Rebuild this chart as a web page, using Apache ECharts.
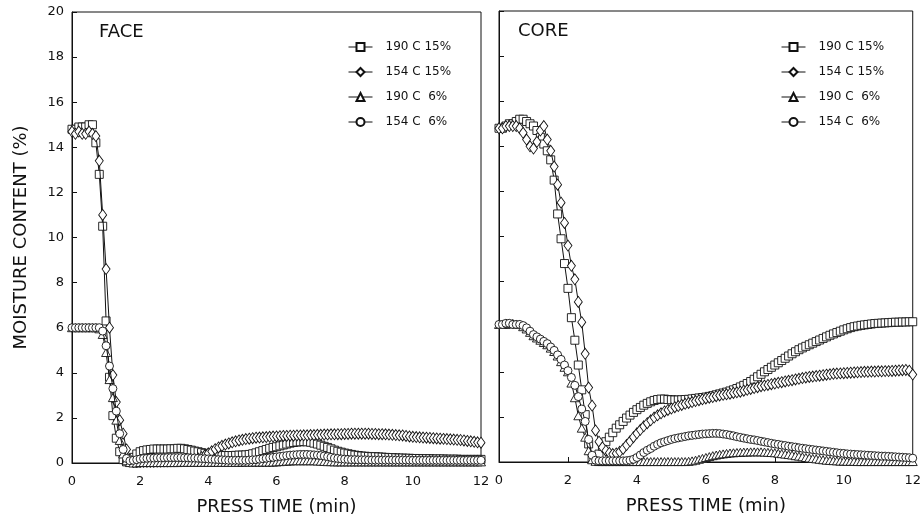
<!DOCTYPE html>
<html>
<head>
<meta charset="utf-8">
<script src="https://cdn.jsdelivr.net/npm/echarts@6/dist/echarts.min.js"></script>
<style>
  html, body { margin: 0; padding: 0; background: #fff; }
  #chart { width: 924px; height: 524px; }
</style>
</head>
<body>
<div id="chart"></div>
<script>
// Press time (min), sampled every 0.1 min
const times = [
  0,0.1,0.2,0.3,0.4,0.5,0.6,0.7,0.8,0.9,
  1,1.1,1.2,1.3,1.4,1.5,1.6,1.7,1.8,1.9,
  2,2.1,2.2,2.3,2.4,2.5,2.6,2.7,2.8,2.9,
  3,3.1,3.2,3.3,3.4,3.5,3.6,3.7,3.8,3.9,
  4,4.1,4.2,4.3,4.4,4.5,4.6,4.7,4.8,4.9,
  5,5.1,5.2,5.3,5.4,5.5,5.6,5.7,5.8,5.9,
  6,6.1,6.2,6.3,6.4,6.5,6.6,6.7,6.8,6.9,
  7,7.1,7.2,7.3,7.4,7.5,7.6,7.7,7.8,7.9,
  8,8.1,8.2,8.3,8.4,8.5,8.6,8.7,8.8,8.9,
  9,9.1,9.2,9.3,9.4,9.5,9.6,9.7,9.8,9.9,
  10,10.1,10.2,10.3,10.4,10.5,10.6,10.7,10.8,10.9,
  11,11.1,11.2,11.3,11.4,11.5,11.6,11.7,11.8,11.9,
  12
];

const seriesNames = ['190 C 15%', '154 C 15%', '190 C  6%', '154 C  6%'];
const xTicks = [0, 2, 4, 6, 8, 10, 12];
const yTicks = [0, 2, 4, 6, 8, 10, 12, 14, 16, 18, 20];
const panelTitles = ['FACE', 'CORE'];

// FACE layer moisture content (%)
const face190c15 = [
  14.8,14.8,14.9,14.9,14.9,15.0,15.0,14.2,12.8,10.5,
  6.3,3.8,2.1,1.1,0.5,0.15,0.05,0.1,0.25,0.4,
  0.5,0.55,0.58,0.6,0.62,0.62,0.62,0.62,0.62,0.63,
  0.63,0.65,0.65,0.63,0.6,0.57,0.53,0.5,0.46,0.43,
  0.4,0.38,0.36,0.35,0.34,0.33,0.33,0.33,0.34,0.35,
  0.35,0.36,0.38,0.41,0.45,0.5,0.55,0.6,0.65,0.69,
  0.72,0.76,0.8,0.84,0.88,0.91,0.93,0.94,0.95,0.94,
  0.92,0.88,0.84,0.79,0.74,0.69,0.63,0.57,0.52,0.48,
  0.44,0.41,0.38,0.35,0.33,0.31,0.3,0.29,0.28,0.28,
  0.27,0.26,0.25,0.24,0.24,0.23,0.22,0.22,0.21,0.21,
  0.2,0.2,0.2,0.19,0.19,0.19,0.18,0.18,0.18,0.18,
  0.17,0.17,0.17,0.17,0.16,0.16,0.16,0.16,0.16,0.16,
  0.16
];
const face154c15 = [
  14.7,14.6,14.7,14.6,14.6,14.7,14.6,14.5,13.4,11.0,
  8.6,6.0,3.9,2.7,1.9,1.3,0.6,0.15,0.05,0.05,
  0.05,0.05,0.05,0.06,0.06,0.07,0.07,0.08,0.08,0.09,
  0.1,0.1,0.11,0.12,0.13,0.14,0.16,0.2,0.26,0.34,
  0.43,0.52,0.61,0.69,0.76,0.82,0.87,0.92,0.96,1.0,
  1.03,1.06,1.08,1.1,1.12,1.13,1.14,1.15,1.16,1.17,
  1.18,1.19,1.2,1.2,1.21,1.21,1.22,1.22,1.23,1.23,
  1.24,1.24,1.25,1.25,1.26,1.26,1.27,1.27,1.28,1.28,
  1.29,1.29,1.3,1.3,1.3,1.3,1.3,1.3,1.29,1.29,
  1.28,1.28,1.27,1.26,1.25,1.24,1.23,1.22,1.2,1.18,
  1.16,1.15,1.14,1.13,1.12,1.11,1.1,1.09,1.08,1.07,
  1.06,1.05,1.04,1.03,1.02,1.0,0.98,0.96,0.94,0.92,
  0.9
];
const face190c6 = [
  6.0,6.0,6.0,6.0,6.0,6.0,6.0,6.0,5.95,5.7,
  4.9,3.7,2.9,1.9,1.0,0.4,0.1,0.02,0.0,0.0,
  0.02,0.02,0.02,0.02,0.02,0.02,0.02,0.02,0.02,0.02,
  0.02,0.02,0.03,0.03,0.03,0.03,0.03,0.03,0.03,0.03,
  0.03,0.03,0.03,0.03,0.03,0.03,0.03,0.03,0.03,0.03,
  0.04,0.04,0.04,0.04,0.04,0.04,0.04,0.04,0.04,0.04,
  0.05,0.06,0.07,0.08,0.09,0.1,0.1,0.1,0.1,0.1,
  0.1,0.1,0.09,0.08,0.07,0.06,0.06,0.05,0.05,0.05,
  0.05,0.05,0.05,0.05,0.05,0.05,0.05,0.05,0.05,0.05,
  0.05,0.05,0.05,0.05,0.05,0.05,0.05,0.05,0.05,0.05,
  0.05,0.05,0.05,0.05,0.05,0.05,0.05,0.05,0.05,0.05,
  0.05,0.05,0.05,0.05,0.05,0.05,0.05,0.05,0.05,0.05,
  0.05
];
const face154c6 = [
  6.0,6.0,6.0,6.0,6.0,6.0,6.0,6.0,6.0,5.85,
  5.2,4.3,3.3,2.3,1.3,0.6,0.2,0.1,0.12,0.15,
  0.18,0.2,0.21,0.22,0.22,0.23,0.23,0.23,0.24,0.24,
  0.24,0.24,0.24,0.23,0.23,0.22,0.22,0.21,0.2,0.19,
  0.18,0.17,0.16,0.15,0.14,0.13,0.12,0.12,0.12,0.12,
  0.12,0.12,0.13,0.14,0.15,0.17,0.19,0.21,0.23,0.25,
  0.27,0.29,0.31,0.33,0.35,0.36,0.37,0.38,0.38,0.38,
  0.37,0.36,0.35,0.33,0.31,0.28,0.25,0.22,0.2,0.18,
  0.17,0.16,0.15,0.15,0.14,0.14,0.14,0.13,0.13,0.13,
  0.13,0.13,0.13,0.13,0.13,0.13,0.13,0.13,0.13,0.13,
  0.12,0.12,0.12,0.12,0.12,0.12,0.12,0.12,0.12,0.12,
  0.12,0.12,0.12,0.12,0.12,0.12,0.12,0.12,0.12,0.12,
  0.12
];

// CORE layer moisture content (%)
const core190c15 = [
  14.8,14.8,14.9,15.0,15.0,15.1,15.2,15.2,15.1,15.0,
  14.9,14.7,14.4,14.1,13.8,13.4,12.5,11.0,9.9,8.8,
  7.7,6.4,5.4,4.3,3.2,2.1,0.8,0.2,0.15,0.35,
  0.7,0.9,1.1,1.3,1.5,1.65,1.8,1.95,2.08,2.2,
  2.32,2.42,2.52,2.6,2.67,2.73,2.77,2.79,2.79,2.77,
  2.76,2.75,2.75,2.76,2.77,2.78,2.8,2.82,2.84,2.86,
  2.88,2.91,2.94,2.98,3.02,3.06,3.1,3.15,3.2,3.26,
  3.33,3.4,3.48,3.57,3.67,3.78,3.89,4.0,4.1,4.2,
  4.3,4.4,4.5,4.6,4.7,4.8,4.89,4.98,5.06,5.13,
  5.2,5.27,5.34,5.41,5.48,5.55,5.62,5.68,5.74,5.8,
  5.86,5.91,5.96,6.0,6.03,6.06,6.08,6.1,6.12,6.14,
  6.15,6.16,6.17,6.18,6.19,6.2,6.2,6.21,6.21,6.22,
  6.22
];
const core154c15 = [
  14.8,14.8,14.9,14.9,14.9,14.9,14.8,14.6,14.3,14.0,
  13.9,14.2,14.7,14.9,14.3,13.8,13.1,12.3,11.5,10.6,
  9.6,8.7,8.1,7.1,6.2,4.8,3.3,2.5,1.4,0.9,
  0.65,0.5,0.4,0.35,0.38,0.45,0.58,0.75,0.92,1.1,
  1.27,1.43,1.58,1.72,1.85,1.97,2.07,2.16,2.24,2.31,
  2.37,2.43,2.48,2.53,2.58,2.62,2.66,2.7,2.74,2.78,
  2.82,2.85,2.88,2.92,2.95,2.98,3.0,3.03,3.06,3.09,
  3.12,3.16,3.2,3.24,3.28,3.32,3.36,3.39,3.42,3.45,
  3.48,3.51,3.54,3.57,3.6,3.63,3.66,3.69,3.72,3.75,
  3.77,3.79,3.81,3.83,3.85,3.87,3.89,3.91,3.92,3.93,
  3.94,3.95,3.96,3.97,3.98,3.99,4.0,4.0,4.01,4.01,
  4.02,4.02,4.03,4.03,4.04,4.05,4.06,4.07,4.08,4.05,
  3.88
];
const core190c6 = [
  6.1,6.1,6.1,6.15,6.15,6.1,6.1,6.0,5.9,5.75,
  5.6,5.5,5.4,5.3,5.2,5.05,4.9,4.7,4.45,4.2,
  4.0,3.5,2.85,2.05,1.5,1.1,0.5,0.1,0.03,0.02,
  0.02,0.02,0.02,0.02,0.02,0.02,0.02,0.02,0.02,0.02,
  0.02,0.02,0.02,0.02,0.02,0.02,0.02,0.02,0.02,0.02,
  0.02,0.02,0.02,0.02,0.02,0.03,0.05,0.08,0.12,0.16,
  0.2,0.24,0.28,0.31,0.34,0.36,0.38,0.4,0.41,0.42,
  0.43,0.44,0.44,0.45,0.45,0.45,0.45,0.44,0.43,0.42,
  0.41,0.39,0.37,0.35,0.33,0.31,0.28,0.26,0.23,0.2,
  0.18,0.16,0.14,0.12,0.1,0.08,0.07,0.06,0.05,0.04,
  0.04,0.03,0.03,0.03,0.02,0.02,0.02,0.02,0.02,0.02,
  0.02,0.02,0.02,0.02,0.02,0.02,0.02,0.02,0.02,0.02,
  0.02
];
const core154c6 = [
  6.1,6.1,6.15,6.15,6.1,6.1,6.1,6.05,5.95,5.8,
  5.65,5.55,5.45,5.35,5.25,5.1,4.95,4.75,4.55,4.3,
  4.05,3.75,3.4,2.9,2.35,1.8,1.0,0.3,0.08,0.05,
  0.05,0.05,0.05,0.05,0.05,0.05,0.05,0.06,0.08,0.12,
  0.2,0.31,0.42,0.52,0.6,0.7,0.78,0.85,0.9,0.95,
  1.0,1.04,1.07,1.1,1.13,1.16,1.18,1.2,1.22,1.24,
  1.25,1.26,1.27,1.27,1.26,1.24,1.22,1.19,1.16,1.12,
  1.09,1.06,1.03,1.0,0.98,0.95,0.92,0.89,0.86,0.83,
  0.8,0.78,0.75,0.73,0.7,0.68,0.66,0.63,0.61,0.59,
  0.57,0.55,0.53,0.51,0.49,0.47,0.45,0.43,0.41,0.39,
  0.38,0.36,0.35,0.34,0.33,0.32,0.31,0.3,0.29,0.28,
  0.27,0.26,0.26,0.25,0.24,0.23,0.22,0.21,0.2,0.19,
  0.17
];

const panelData = [
  [face190c15, face154c15, face190c6, face154c6],
  [core190c15, core154c15, core190c6, core154c6]
];

// marker shapes: square, diamond, triangle, circle (open)
const markerShapes = ['rect', 'diamond', 'triangle', 'circle'];
const markerSizes = [[8, 8], [8, 11], [9, 8], [8, 8]];

const FONT = 'DejaVu Sans';
const INK = '#111';

const chart = echarts.init(document.getElementById('chart'), null, { renderer: 'canvas' });

const grids = [
  { left: 72, top: 12, width: 409, height: 451 },
  { left: 499, top: 11, width: 415, height: 451 }
];

function xAxisFor(i) {
  return {
    type: 'value', gridIndex: i, min: xTicks[0], max: xTicks[xTicks.length - 1], interval: 2,
    name: 'PRESS TIME (min)', nameLocation: 'middle', nameGap: 35,
    nameTextStyle: { fontFamily: FONT, fontSize: 18, color: INK },
    axisLine: { lineStyle: { color: INK, width: 1 } },
    axisTick: { inside: true, length: 5, lineStyle: { color: INK } },
    axisLabel: { fontFamily: FONT, fontSize: 13, color: INK, margin: 12 },
    splitLine: { show: false }
  };
}

function yAxisFor(i) {
  return {
    type: 'value', gridIndex: i, min: yTicks[0], max: yTicks[yTicks.length - 1], interval: 2,
    name: i === 0 ? 'MOISTURE CONTENT (%)' : '', nameLocation: 'middle', nameGap: 42,
    nameTextStyle: { fontFamily: FONT, fontSize: 18, color: INK },
    axisLine: { lineStyle: { color: INK, width: 1 } },
    axisTick: { inside: true, length: 5, lineStyle: { color: INK } },
    axisLabel: { show: i === 0, fontFamily: FONT, fontSize: 13, color: INK, margin: 8 },
    splitLine: { show: false }
  };
}

const series = [];
panelData.forEach((sets, p) => {
  sets.forEach((vals, k) => {
    series.push({
      type: 'line',
      name: seriesNames[k],
      xAxisIndex: p, yAxisIndex: p,
      data: times.map((t, j) => [t, vals[j]]),
      symbol: markerShapes[k],
      symbolSize: markerSizes[k],
      showAllSymbol: true,
      lineStyle: { color: INK, width: 1 },
      itemStyle: { color: '#fff', borderColor: INK, borderWidth: 0.9 },
      emphasis: { disabled: true },
      z: 2 + k
    });
  });
});

function legendFor(left) {
  return {
    left: left, top: 36, orient: 'vertical',
    data: seriesNames, selectedMode: false,
    itemWidth: 24, itemHeight: 10, itemGap: 13,
    lineStyle: { width: 1 },
    textStyle: { fontFamily: FONT, fontSize: 12, color: INK, padding: [0, 0, 0, 8] }
  };
}

chart.setOption({
  animation: false,
  backgroundColor: '#fff',
  title: [
    { text: panelTitles[0], left: 94, top: 18, textStyle: { fontFamily: FONT, fontSize: 18, fontWeight: 'normal', color: INK } },
    { text: panelTitles[1], left: 513, top: 17, textStyle: { fontFamily: FONT, fontSize: 18, fontWeight: 'normal', color: INK } }
  ],
  legend: [legendFor(343), legendFor(776)],
  grid: grids.map(g => Object.assign({ show: true, borderColor: INK, borderWidth: 1, backgroundColor: 'transparent' }, g)),
  xAxis: [xAxisFor(0), xAxisFor(1)],
  yAxis: [yAxisFor(0), yAxisFor(1)],
  series: series
});
</script>
</body>
</html>
